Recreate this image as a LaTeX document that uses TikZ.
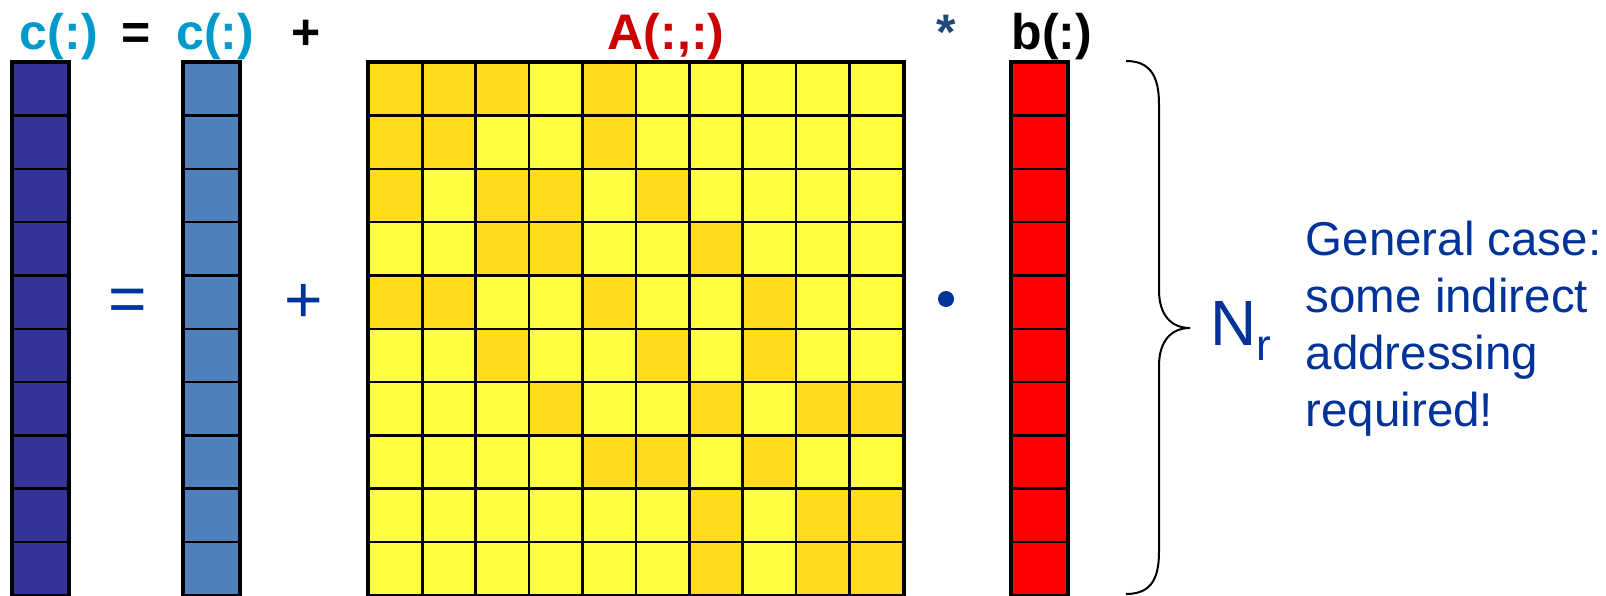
\documentclass[tikz,border=0pt]{standalone}
\usepackage{fontspec}
\setmainfont{Liberation Sans}
\definecolor{dkblue}{RGB}{51,51,153}
\definecolor{ltblue}{RGB}{79,129,189}
\definecolor{vred}{RGB}{255,0,0}
\definecolor{ylight}{RGB}{255,255,64}
\definecolor{ydark}{RGB}{255,221,26}
\definecolor{cyanlab}{RGB}{0,153,204}
\definecolor{redlab}{RGB}{204,0,0}
\definecolor{starblue}{RGB}{31,73,125}
\definecolor{txtblue}{RGB}{0,51,153}
\begin{document}
\begin{tikzpicture}[x=1pt,y=-1pt]
\useasboundingbox (0,0) rectangle (1606,595);
\tikzset{
  cellbox/.style={draw=black, line width=2.5pt, minimum width=53.4pt, minimum height=53.3pt, inner sep=0pt, anchor=north west},
  colbox/.style={cellbox, minimum width=55pt},
  lab/.style={inner sep=0pt, anchor=base, font=\fontsize{50}{60}\selectfont\bfseries},
  op/.style={inner sep=0pt, anchor=center, text=txtblue, font=\fontsize{66}{70}\selectfont},
  note/.style={inner sep=0pt, anchor=base west, text=txtblue, font=\fontsize{47.5}{57}\selectfont}
}
% columns
\foreach \i in {0,...,9}{
  \node[colbox, fill=dkblue] (ca-\i) at (11.7,{61+\i*53.3}) {};
  \node[colbox, fill=ltblue] (cb-\i) at (182.7,{61+\i*53.3}) {};
  \node[colbox, fill=vred] (bb-\i) at (1010.7,{61+\i*53.3}) {};
}
% matrix
\foreach \r in {0,...,9}{
  \foreach \c in {0,...,9}{
    \node[cellbox, fill=ylight] (m-\r-\c) at ({367.6+\c*53.4},{61+\r*53.3}) {};
  }
}
\foreach \r/\cols in {0/{0,1,2,4},1/{0,1,4},2/{0,2,3,5},3/{2,3,6},4/{0,1,4,7},5/{2,5,7},6/{3,6,8,9},7/{4,5,7},8/{6,8,9},9/{6,8,9}}{
  \foreach \c in \cols{
    \node[cellbox, fill=ydark] (d-\r-\c) at ({367.6+\c*53.4},{61+\r*53.3}) {};
  }
}
\draw[line width=3pt] (m-0-0.north west) rectangle (m-9-9.south east);
\draw[line width=3pt] (ca-0.north west) rectangle (ca-9.south east);
\draw[line width=3pt] (cb-0.north west) rectangle (cb-9.south east);
\draw[line width=3pt] (bb-0.north west) rectangle (bb-9.south east);
% top labels
\node[lab, text=cyanlab] (lc1) at (58.8,49) {c(:)};
\node[lab, text=black] (leq) at (136.5,49) {=};
\node[lab, text=cyanlab] (lc2) at (215.4,49) {c(:)};
\node[lab, text=black] (lplus) at (305.8,49) {+};
\node[lab, text=redlab] (lA) at (666,49) {A(:,:)};
\node[lab, text=starblue] (lstar) at (946.5,49) {*};
\node[lab, text=black] (lb) at (1052,49) {b(:)};
% middle operators
\node[op] (oeq) at (128,305.5) {=};
\node[op] (oplus) at (303.5,303.5) {+};
\node[circle, fill=txtblue, inner sep=0pt, minimum size=16pt] (odot) at (946,299) {};
% brace
\draw[line width=2pt] (1126,61) .. controls (1150,61) and (1159,76) .. (1159,104)
  -- (1159,290) .. controls (1159,316) and (1172,328) .. (1190,328)
  .. controls (1172,328) and (1159,340) .. (1159,366)
  -- (1159,552) .. controls (1159,580) and (1150,594) .. (1126,594);
% N_r
\node[inner sep=0pt, anchor=base west, text=txtblue, font=\fontsize{64}{64}\selectfont] (nN) at (1210,345) {N};
\node[inner sep=0pt, anchor=base west, text=txtblue, font=\fontsize{44}{44}\selectfont] (nr) at (1256,360) {r};
% note
\node[note] (t1) at (1305.5,255) {General case:};
\node[note] (t2) at (1305.5,312) {some indirect};
\node[note] (t3) at (1305.5,369) {addressing};
\node[note] (t4) at (1305.5,426) {required!};
\end{tikzpicture}
\end{document}
